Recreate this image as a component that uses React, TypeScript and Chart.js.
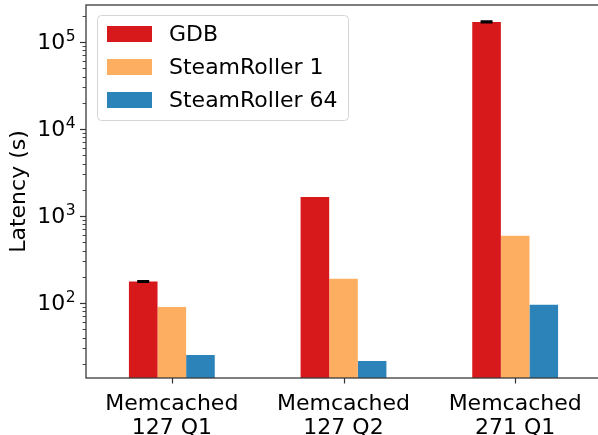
import React, { useEffect, useRef } from "react";
import { Chart, registerables } from "chart.js";

Chart.register(...registerables);

const categories = [
  ["Memcached", "127 Q1"],
  ["Memcached", "127 Q2"],
  ["Memcached", "271 Q1"],
];
const seriesNames = ["GDB", "SteamRoller 1", "SteamRoller 64"];
const gdb = [176, 1650, 170000];
const sr1 = [90, 189, 590];
const sr64 = [25.2, 21.5, 95];
const gdbErr = [2.5, 0, 2500];
const yMajorPowers = [2, 3, 4, 5];
const yMin = 13.7;
const yMax = 266000;

const FONT = "DejaVu Sans";

const customPlugin = {
  id: "mplStyle",
  afterDatasetsDraw(chart: any) {
    const ctx = chart.ctx as CanvasRenderingContext2D;
    const meta = chart.getDatasetMeta(0);
    const y = chart.scales.y;
    ctx.save();
    ctx.strokeStyle = "#000";
    ctx.lineWidth = 2;
    meta.data.forEach((bar: any, i: number) => {
      const err = gdbErr[i];
      if (!err) return;
      const v = gdb[i];
      const yTop = y.getPixelForValue(v + err);
      const yBot = y.getPixelForValue(v - err);
      const x = bar.x;
      ctx.beginPath();
      ctx.moveTo(x, yTop);
      ctx.lineTo(x, yBot);
      ctx.moveTo(x - 6, yTop);
      ctx.lineTo(x + 6, yTop);
      ctx.moveTo(x - 6, yBot);
      ctx.lineTo(x + 6, yBot);
      ctx.stroke();
    });
    ctx.restore();
  },
  afterDraw(chart: any) {
    const ctx = chart.ctx as CanvasRenderingContext2D;
    const { left, right, top, bottom } = chart.chartArea;
    const y = chart.scales.y;
    const x = chart.scales.x;
    ctx.save();
    // spines
    ctx.strokeStyle = "#3a3a3a";
    ctx.lineWidth = 1.3;
    ctx.strokeRect(left, top, right - left, bottom - top);

    // y ticks
    ctx.strokeStyle = "#333";
    for (let n = 1; n <= 5; n++) {
      for (let k = 1; k <= 9; k++) {
        const v = k * Math.pow(10, n);
        if (v < yMin || v > yMax) continue;
        const py = Math.round(y.getPixelForValue(v)) + 0.5;
        const major = k === 1;
        ctx.lineWidth = major ? 1.2 : 0.9;
        ctx.beginPath();
        ctx.moveTo(left, py);
        ctx.lineTo(left - (major ? 6 : 3.5), py);
        ctx.stroke();
      }
    }
    // y labels
    ctx.fillStyle = "#000";
    ctx.textBaseline = "alphabetic";
    yMajorPowers.forEach((p) => {
      const py = y.getPixelForValue(Math.pow(10, p));
      ctx.font = `15.5px "${FONT}"`;
      const sup = String(p);
      const supW = ctx.measureText(sup).width;
      ctx.font = `22px "${FONT}"`;
      const baseW = ctx.measureText("10").width;
      const xEnd = 75;
      const xStart = xEnd - supW - baseW;
      ctx.textAlign = "left";
      ctx.fillText("10", xStart, py + 7.5);
      ctx.font = `15.5px "${FONT}"`;
      ctx.fillText(sup, xStart + baseW + 0.5, py - 1);
    });

    // x ticks
    ctx.strokeStyle = "#333";
    ctx.lineWidth = 1.2;
    categories.forEach((_, i) => {
      const px = Math.round(x.getPixelForValue(i)) + 0.5;
      ctx.beginPath();
      ctx.moveTo(px, bottom);
      ctx.lineTo(px, bottom + 5.5);
      ctx.stroke();
    });

    // legend
    const lx = 97.5, ly = 15.5, lw = 251, lh = 105;
    ctx.beginPath();
    (ctx as any).roundRect(lx, ly, lw, lh, 4);
    ctx.fillStyle = "rgba(255,255,255,0.8)";
    ctx.fill();
    ctx.strokeStyle = "#d4d4d4";
    ctx.lineWidth = 1;
    ctx.stroke();
    chart.data.datasets.forEach((ds: any, i: number) => {
      const cy = 34 + i * 33;
      ctx.fillStyle = ds.backgroundColor;
      ctx.fillRect(107, cy - 8, 45, 16);
      ctx.fillStyle = "#000";
      ctx.font = `22px "${FONT}"`;
      ctx.textAlign = "left";
      ctx.textBaseline = "middle";
      ctx.fillText(ds.label, 169, cy + 1);
    });
    ctx.restore();
  },
};

export default function App() {
  const ref = useRef<HTMLCanvasElement | null>(null);
  useEffect(() => {
    if (!ref.current) return;
    const chart = new Chart(ref.current, {
      type: "bar",
      data: {
        labels: categories as any,
        datasets: [
          { label: seriesNames[0], data: gdb, backgroundColor: "#d7191c" },
          { label: seriesNames[1], data: sr1, backgroundColor: "#fdae61" },
          { label: seriesNames[2], data: sr64, backgroundColor: "#2b83ba" },
        ],
      },
      options: {
        responsive: false,
        animation: false,
        devicePixelRatio: 1,
        layout: { padding: { top: 5, right: 9, left: 0, bottom: 0 } },
        datasets: { bar: { categoryPercentage: 0.5, barPercentage: 1, borderWidth: 0 } },
        plugins: { legend: { display: false }, tooltip: { enabled: false } },
        scales: {
          x: {
            type: "category",
            offset: true,
            grid: { display: false, offset: false },
            border: { display: false },
            ticks: {
              color: "#000",
              padding: 6,
              maxRotation: 0,
              autoSkip: false,
              font: { family: FONT, size: 22, lineHeight: 1.1 },
            },
            afterFit: (s: any) => {
              s.height = 57;
            },
          },
          y: {
            type: "logarithmic",
            min: yMin,
            max: yMax,
            grid: { display: false },
            border: { display: false },
            ticks: { display: false },
            title: {
              display: true,
              text: "Latency (s)",
              color: "#000",
              padding: { top: 6, bottom: 0 },
              font: { family: FONT, size: 22, lineHeight: 1.2 },
            },
            afterFit: (s: any) => {
              s.width = 86;
            },
          },
        },
      },
      plugins: [customPlugin],
    });
    return () => chart.destroy();
  }, []);
  return (
    <div style={{ position: "fixed", left: 0, top: 0, width: 610, height: 435, background: "#fff" }}>
      <canvas ref={ref} width={610} height={435} style={{ display: "block" }} />
    </div>
  );
}
